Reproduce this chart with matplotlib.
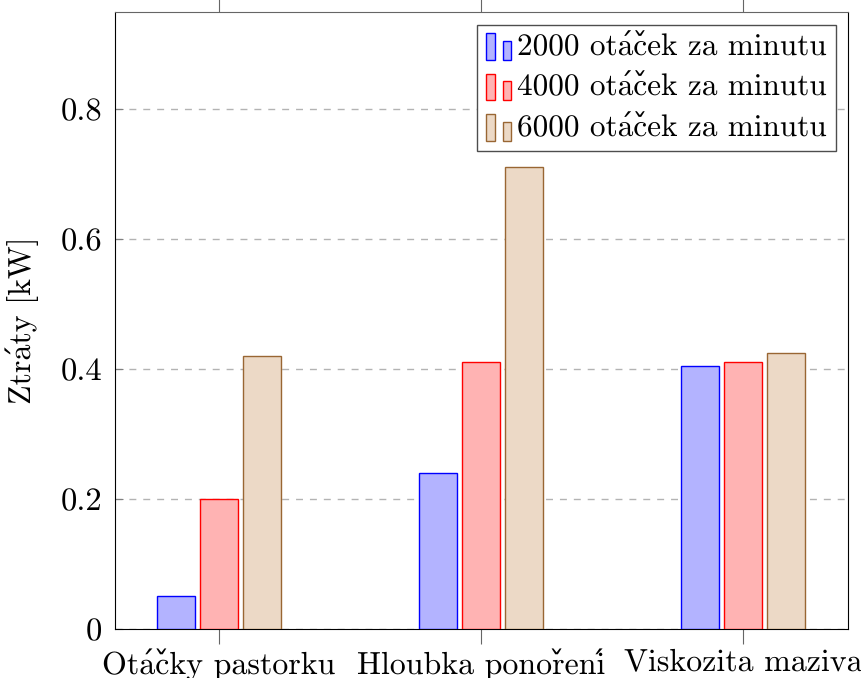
import unicodedata
import numpy as np
import matplotlib
matplotlib.use('Agg')
import matplotlib.pyplot as plt
from matplotlib.patches import Rectangle
from matplotlib.legend_handler import HandlerBase

# cmr10 for the TeX look, DejaVu Serif supplies the combining accents
plt.rcParams['font.family'] = ['cmr10', 'DejaVu Serif']
plt.rcParams['axes.formatter.use_mathtext'] = True
plt.rcParams['text.hinting'] = 'no_hinting'
plt.rcParams['text.hinting_factor'] = 1

# data
categories = ['Otáčky pastorku', 'Hloubka ponoření', 'Viskozita maziva']
series_names = ['2000 otáček za minutu', '4000 otáček za minutu', '6000 otáček za minutu']
ylabel = 'Ztráty [kW]'
rpm2000 = [0.05, 0.24, 0.405]
rpm4000 = [0.20, 0.41, 0.41]
rpm6000 = [0.42, 0.71, 0.425]
ytick_vals = [0, 0.2, 0.4, 0.6, 0.8]
ytick_labels = ['0', '0.2', '0.4', '0.6', '0.8']

fills = [(0.7, 0.7, 1.0), (1.0, 0.7, 0.7), (0.925, 0.85, 0.775)]
edges = ['blue', 'red', (0.6, 0.4, 0.2)]


def nfd(s):
    # decomposed letters: base glyph from cmr10, accent from the fallback font
    return unicodedata.normalize('NFD', s)


class TwoBars(HandlerBase):
    # pgfplots style legend: two small bars
    def create_artists(self, legend, orig_handle, xd, yd, width, height, fontsize, trans):
        fc = orig_handle.get_facecolor()
        ec = orig_handle.get_edgecolor()
        h = fontsize * 0.85
        r1 = Rectangle((xd, yd - 0.15 * fontsize), fontsize * 0.3, h, fc=fc, ec=ec, lw=1, transform=trans)
        r2 = Rectangle((xd + fontsize * 0.55, yd - 0.15 * fontsize), fontsize * 0.26, h * 0.72, fc=fc, ec=ec, lw=1, transform=trans)
        return [r1, r2]


fig = plt.figure(figsize=(8.62, 6.78), dpi=100)
ax = fig.add_axes([115 / 862, 1 - 629 / 678, (848 - 115) / 862, (629 - 12) / 678])

x = np.arange(len(categories))
w = 0.145
off = 0.164
bars = []
for i, vals in enumerate([rpm2000, rpm4000, rpm6000]):
    b = ax.bar(x + (i - 1) * off, vals, w, color=fills[i], edgecolor=edges[i], linewidth=1, zorder=3)
    bars.append(b[0])

fs = 23
ax.set_xlim(-0.397, 2.4)
ax.set_ylim(0, 0.949)
ax.set_xticks(x)
ax.set_xticklabels([nfd(c) for c in categories], fontsize=fs)
ax.set_yticks(ytick_vals)
ax.set_yticklabels(ytick_labels, fontsize=23.5)
ax.tick_params(axis='x', direction='out', length=11, color='0.4', top=True, pad=3)
ax.tick_params(axis='y', direction='in', length=6, color='0.5', pad=9)
ax.yaxis.grid(True, linestyle=(0, (5, 5)), color='0.7', linewidth=1)
ax.set_axisbelow(True)
ax.set_ylabel(nfd(ylabel), fontsize=fs, labelpad=16)
ax.spines['top'].set_color('0.4')
for s in ['left', 'right', 'bottom']:
    ax.spines[s].set_color('black')

leg = ax.legend(bars, [nfd(s) for s in series_names], loc='upper right', fontsize=22.5,
                handler_map={b: TwoBars() for b in bars},
                fancybox=False, framealpha=1, edgecolor='0.3',
                handlelength=0.85, handletextpad=0.15, borderpad=0.28,
                labelspacing=0.4, borderaxespad=0.4)
leg.get_frame().set_linewidth(1)

fig.savefig('out.png', dpi=100)
